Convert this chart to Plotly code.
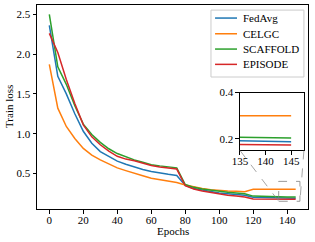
import plotly.graph_objects as go

epochs = list(range(0, 150, 5))

fedavg = [2.36, 1.72, 1.50, 1.25, 1.03, 0.88, 0.775, 0.71, 0.655, 0.615,
          0.58, 0.55, 0.525, 0.505, 0.49, 0.475, 0.35, 0.31, 0.29, 0.27,
          0.255, 0.245, 0.235, 0.225, 0.20, 0.196, 0.194, 0.192, 0.19, 0.188]
celgc = [1.87, 1.32, 1.09, 0.94, 0.815, 0.73, 0.67, 0.615, 0.57, 0.535,
         0.50, 0.47, 0.44, 0.42, 0.40, 0.385, 0.355, 0.33, 0.31, 0.295,
         0.285, 0.28, 0.275, 0.27, 0.30, 0.30, 0.30, 0.30, 0.30, 0.30]
scaffold = [2.50, 1.84, 1.62, 1.35, 1.12, 0.99, 0.89, 0.81, 0.75, 0.705,
            0.67, 0.64, 0.61, 0.595, 0.58, 0.57, 0.36, 0.325, 0.305, 0.29,
            0.275, 0.265, 0.255, 0.245, 0.215, 0.21, 0.208, 0.206, 0.205, 0.204]
episode = [2.26, 2.02, 1.68, 1.38, 1.11, 0.96, 0.86, 0.78, 0.715, 0.68,
           0.66, 0.625, 0.60, 0.58, 0.565, 0.555, 0.345, 0.305, 0.28, 0.26,
           0.24, 0.225, 0.215, 0.205, 0.18, 0.178, 0.177, 0.176, 0.175, 0.174]

series_names = ["FedAvg", "CELGC", "SCAFFOLD", "EPISODE"]
series_values = [fedavg, celgc, scaffold, episode]
series_colors = ["#1f77b4", "#ff7f0e", "#2ca02c", "#d62728"]

x_ticks = [0, 20, 40, 60, 80, 100, 120, 140]
y_ticks = [0.5, 1.0, 1.5, 2.0, 2.5]
y_tick_labels = ["0.5", "1.0", "1.5", "2.0", "2.5"]
inset_x_ticks = [135, 140, 145]
inset_y_ticks = [0.2, 0.4]
inset_y_tick_labels = ["0.2", "0.4"]

main_xr = [-7.25, 152.25]
main_yr = [0.053, 2.617]
inset_xr = [135, 147.5]
inset_yr = [0.15, 0.4]
inset_dom_x = [0.749, 0.985]
inset_dom_y = [0.287, 0.571]

FONT = "Liberation Serif"
FS = 11
fig = go.Figure()
for name, vals, col in zip(series_names, series_values, series_colors):
    fig.add_trace(go.Scatter(x=epochs, y=vals, mode="lines", name=name,
                             line=dict(color=col, width=1.5), showlegend=False))
for name, vals, col in zip(series_names, series_values, series_colors):
    fig.add_trace(go.Scatter(x=epochs, y=vals, mode="lines", name=name,
                             line=dict(color=col, width=1.5), showlegend=False,
                             xaxis="x2", yaxis="y2"))

axis_common = dict(showgrid=False, zeroline=False, showline=True, linecolor="black",
                   linewidth=1, mirror=True, ticks="outside", ticklen=3.5,
                   tickwidth=0.8, tickcolor="black", automargin=False,
                   tickfont=dict(family=FONT, size=FS, color="black"))

fig.update_layout(
    template="none",
    width=315, height=242,
    margin=dict(l=37, r=7, t=5, b=33, autoexpand=False),
    plot_bgcolor="white", paper_bgcolor="white",
    font=dict(family=FONT, size=FS, color="black"),
    xaxis=dict(range=main_xr, tickvals=x_ticks, ticklabelstandoff=-3, **axis_common),
    yaxis=dict(range=main_yr, tickvals=y_ticks, ticktext=y_tick_labels, **axis_common),
    xaxis2=dict(domain=inset_dom_x, anchor="y2", range=inset_xr,
                tickvals=inset_x_ticks, ticklabelstandoff=-3, **axis_common),
    yaxis2=dict(domain=inset_dom_y, anchor="x2", range=inset_yr,
                tickvals=inset_y_ticks, ticktext=inset_y_tick_labels, **axis_common),
    showlegend=False,
)

# axis titles
fig.add_annotation(text="Epochs", xref="paper", yref="paper", x=0.5, y=0,
                   xanchor="center", yanchor="middle", yshift=-22, showarrow=False,
                   font=dict(family=FONT, size=FS))
fig.add_annotation(text="Train loss", xref="paper", yref="paper", x=0, y=0.5,
                   xanchor="center", yanchor="middle", xshift=-28, textangle=-90,
                   showarrow=False, font=dict(family=FONT, size=FS))

# inset background
fig.add_shape(type="rect", xref="paper", yref="paper",
              x0=inset_dom_x[0], x1=inset_dom_x[1], y0=inset_dom_y[0], y1=inset_dom_y[1],
              fillcolor="white", line=dict(width=0), layer="below")

# zoom rectangle in main axes
fig.add_shape(type="rect", xref="x", yref="y",
              x0=inset_xr[0], x1=inset_xr[1], y0=inset_yr[0], y1=inset_yr[1],
              line=dict(color="gray", width=0.8, dash="dash"))


def to_paper(xv, yv):
    px = (xv - main_xr[0]) / (main_xr[1] - main_xr[0])
    py = (yv - main_yr[0]) / (main_yr[1] - main_yr[0])
    return px, py


for xi, xd in ((0, inset_xr[0]), (1, inset_xr[1])):
    px, py = to_paper(xd, inset_yr[0])
    fig.add_shape(type="line", xref="paper", yref="paper",
                  x0=inset_dom_x[xi], y0=inset_dom_y[0], x1=px, y1=py,
                  line=dict(color="gray", width=0.7, dash="dash"))

# legend (drawn manually for compact matplotlib-like spacing)
leg_box = dict(x0=0.642, x1=0.985, y0=0.647, y1=0.975)
fig.add_shape(type="rect", xref="paper", yref="paper", **leg_box,
              fillcolor="rgba(255,255,255,0.8)", line=dict(color="#cccccc", width=1))
leg_rows = [0.936, 0.859, 0.784, 0.709]
for name, col, yy in zip(series_names, series_colors, leg_rows):
    fig.add_shape(type="line", xref="paper", yref="paper", x0=0.657, x1=0.738,
                  y0=yy, y1=yy, line=dict(color=col, width=1.5))
    fig.add_annotation(text=name, xref="paper", yref="paper", x=0.752, y=yy,
                       xanchor="left", yanchor="middle", showarrow=False,
                       font=dict(family=FONT, size=FS))

fig.write_html("out.html", config={"displayModeBar": False},
               post_script="document.body.style.margin='0';document.body.style.overflow='hidden';")
